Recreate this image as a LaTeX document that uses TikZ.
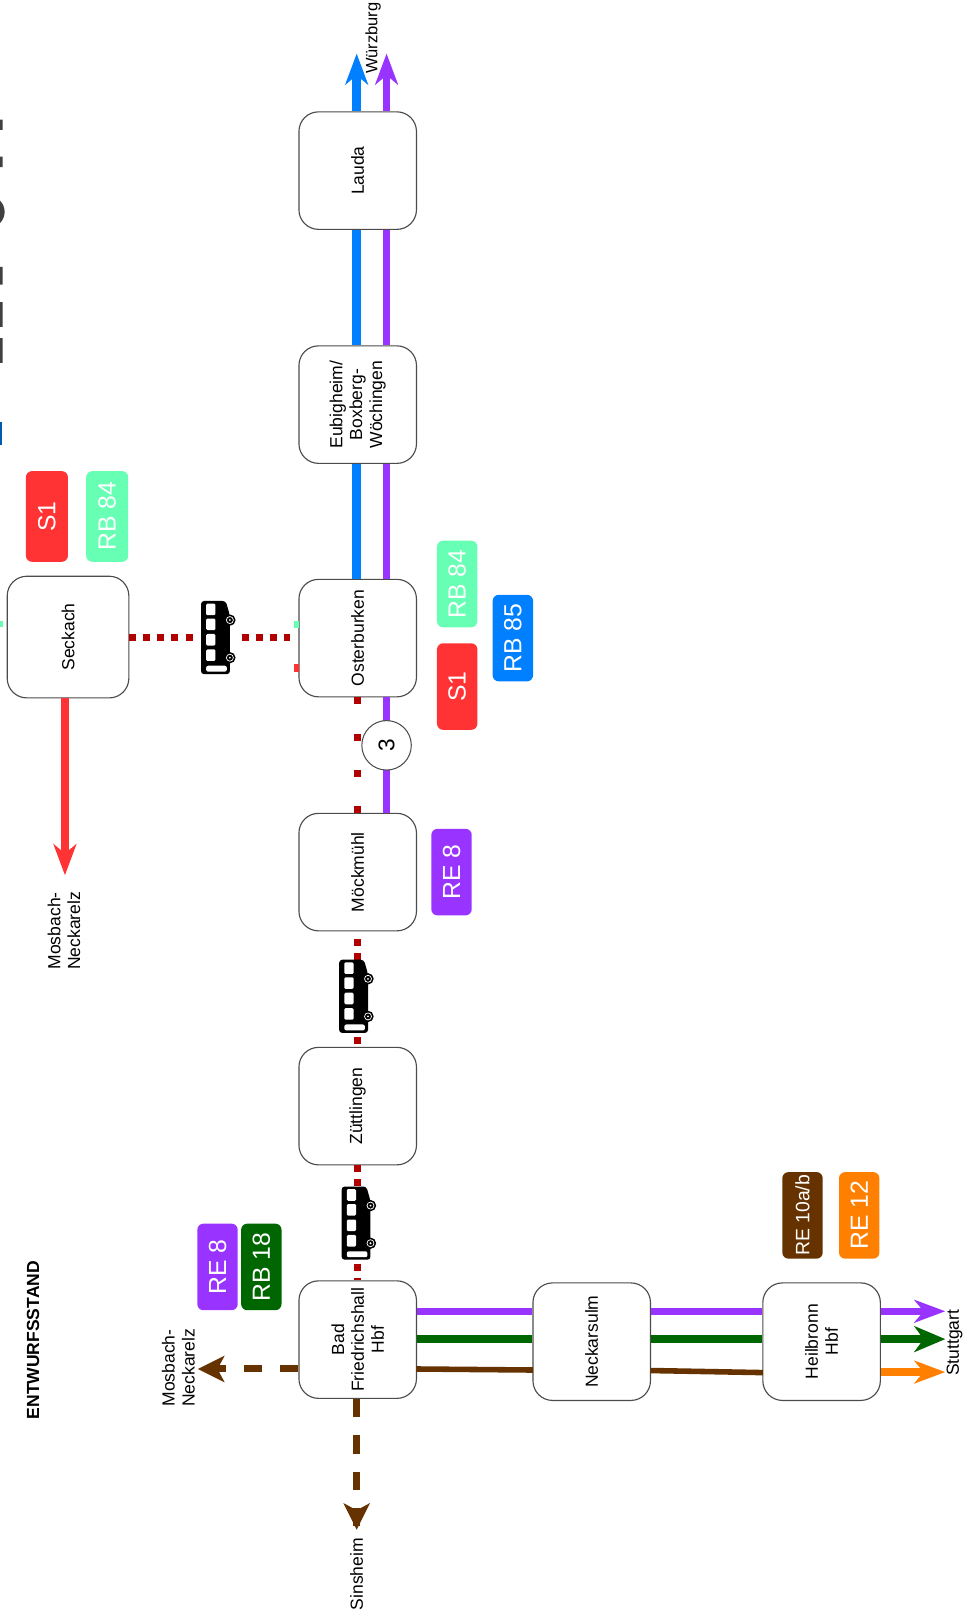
\documentclass[tikz,border=0pt]{standalone}
\usepackage{fontspec}
\setmainfont{Liberation Sans}
\usetikzlibrary{arrows.meta}
\definecolor{cblue}{HTML}{0080FF}
\definecolor{cpurple}{HTML}{9933FF}
\definecolor{cgreen}{HTML}{006600}
\definecolor{cbrown}{HTML}{663300}
\definecolor{corange}{HTML}{FF8000}
\definecolor{cred}{HTML}{FF3333}
\definecolor{cmint}{HTML}{66FFB3}
\definecolor{cdot}{HTML}{B00000}
\tikzset{
 x=0.5pt,y=-0.5pt,
 station/.style={draw=black!70,line width=0.55pt,fill=white,rounded corners=9.5pt,minimum width=57pt,minimum height=57pt,inner sep=0pt,align=center,font=\fontsize{8.5}{9.6}\selectfont,rotate=90},
 badge/.style={rounded corners=3pt,inner sep=0pt,text=white,minimum width=42pt,minimum height=19.6pt,font=\fontsize{12}{12}\selectfont,rotate=90},
 badgewide/.style={badge,minimum width=44pt,minimum height=20.4pt},
 plain/.style={inner sep=0pt,align=center,font=\fontsize{8.5}{9.6}\selectfont,rotate=90},
 track/.style={line width=#1,-{Stealth[length=15pt,width=11pt,inset=4.5pt]}},
 seg/.style={line width=#1},
 dotline/.style={cdot,line width=3.4pt,dash pattern=on 3.4pt off 3.4pt},
 dotwide/.style={cdot,line width=3.4pt,dash pattern=on 3.4pt off 14.1pt},
 dashline/.style={cbrown,line width=3.4pt,dash pattern=on 9pt off 8.6pt},
 buspic/.pic={
  \fill[black,rounded corners=1.5pt] (0,0)--(24,0)--(28,14)--(28,71)--(0,71)--cycle;
  \foreach \yy in {2.6,17,32,47}{\fill[white,rounded corners=.6pt] (5,\yy) rectangle (14,\yy+11.2);}
  \fill[white,rounded corners=1pt] (5,62.8) rectangle (25,68.6);
  \foreach \yy in {18.5,55}{\fill[black] (28,\yy) circle[radius=5.5];\draw[white,line width=.35pt] (28,\yy) circle[radius=3.4];\fill[white] (28,\yy) circle[radius=1];}
 }
}
\begin{document}
\begin{tikzpicture}
\useasboundingbox[fill=white] (0,0) rectangle (940,1568.6);
% clipped remains at the page edge
\begin{scope}
\clip (0,0) rectangle (940,1568.6);
\fill[black!75] (0,116) rectangle (2.5,126) (0,152) rectangle (2.5,162)
 (0,259) rectangle (2.5,276) (0,293) rectangle (2.5,317) (0,328) rectangle (2.5,352);
\fill[black!75] (-10,205.5) ellipse[x radius=14.5,y radius=15];
\fill[cblue!70!black] (0,409) rectangle (1.6,432);
\fill[cmint] (0,602) rectangle (3,608);
\end{scope}
% stations
\node[station] (lauda) at (347,165.5) {Lauda};
\node[station] (eub) at (347,392.5) {Eubigheim/\\Boxberg-\\Wöchingen};
\node[station] (ost) at (347,619) {Osterburken};
\node[station] (moeck) at (347,846) {Möckmühl};
\node[station] (zuet) at (347,1073) {Züttlingen};
\node[station] (bad) at (347,1299.5) {Bad\\Friedrichshall\\Hbf};
\node[station] (neck) at (574,1301.5) {Neckarsulm};
\node[station] (heil) at (797,1301.5) {Heilbronn\\Hbf};
\node[station,minimum width=59pt,minimum height=59pt] (seck) at (66,618) {Seckach};
% free ends
\coordinate (wue1) at (346,52);
\coordinate (wue2) at (375,52);
\coordinate (mos1) at (63,849);
\coordinate (mos2) at (192,1328);
\coordinate (sin) at (346,1484);
\coordinate (st1) at (917,1272);
\coordinate (st2) at (917,1299);
\coordinate (st3) at (917,1331);
\coordinate (ostw) at (281,618);
% tracks
\draw[cblue,track=4.2pt] (lauda.east -| wue1) -- (wue1);
\draw[cpurple,track=3.6pt] (lauda.east -| wue2) -- (wue2);
\draw[cblue,seg=4.2pt] (eub.east -| wue1) -- (lauda.west -| wue1);
\draw[cpurple,seg=3.6pt] (eub.east -| wue2) -- (lauda.west -| wue2);
\draw[cblue,seg=4.2pt] (ost.east -| wue1) -- (eub.west -| wue1);
\draw[cpurple,seg=3.6pt] (ost.east -| wue2) -- (eub.west -| wue2);
\draw[cpurple,seg=3.6pt] (moeck.east -| wue2) -- (ost.west -| wue2);
\draw[cred,track=3.6pt] (seck.west -| mos1) -- (mos1);
\draw[dotline] (seck.south) -- (ostw);
\draw[dotwide] (ost.west) -- (moeck.east);
\draw[dotline] ([yshift=-3.5pt]moeck.west) -- (zuet.east);
\draw[dotline] (zuet.west) -- (bad.east);
\draw[dashline] (bad.north |- mos2) -- (mos2);
\draw[dashline] (bad.west -| sin) -- (sin);
\fill[cbrown] (192,1328) -- ++(26,-13) -- ++(-7,13) -- ++(7,13) -- cycle;
\fill[cbrown] (346,1484) -- ++(-13,-26) -- ++(13,7) -- ++(13,-7) -- cycle;
\draw[cpurple,seg=3.6pt] (bad.south |- st1) -- (neck.north |- st1);
\draw[cgreen,seg=3.9pt] (bad.south |- st2) -- (neck.north |- st2);
\draw[cbrown,seg=2.7pt] (404,1328) -- (517,1329);
\draw[cpurple,seg=3.6pt] (neck.south |- st1) -- (heil.north |- st1);
\draw[cgreen,seg=3.9pt] (neck.south |- st2) -- (heil.north |- st2);
\draw[cbrown,seg=2.7pt] (631,1329.5) -- (740,1331.5);
\draw[cpurple,track=3.6pt] (heil.south |- st1) -- (st1);
\draw[cgreen,line width=3.9pt,-{Stealth[length=15pt,width=12.5pt,inset=4.5pt]}] (heil.south |- st2) -- (st2);
\draw[corange,track=3.6pt] (heil.south |- st3) -- (st3);
% small stubs on Osterburken
\fill[cmint] (285,602) rectangle (290,609);
\fill[cred] (285,644) rectangle (290,652);
% transfer circle
\node[draw=black!70,fill=white,circle,line width=.5pt,minimum size=24pt,inner sep=0pt,rotate=90,font=\fontsize{11}{11}\selectfont] (three) at (375,723) {3};
% buses
\fill[white] (190,578) rectangle (233,659);
\path (195,583) pic {buspic};
\path (329,931) pic {buspic};
\path (331.4,1151) pic {buspic};
% badges
\node[badgewide,fill=cred] (b1) at (45.5,501) {S1};
\node[badgewide,fill=cmint] (b2) at (104,501) {RB 84};
\node[badge,fill=cmint] (b3) at (443.5,566.5) {RB 84};
\node[badge,fill=cblue] (b4) at (497.5,619) {RB 85};
\node[badge,fill=cred] (b5) at (443.5,666) {S1};
\node[badge,fill=cpurple] (b6) at (438,846) {RE 8};
\node[badge,fill=cpurple] (b7) at (211,1229) {RE 8};
\node[badge,fill=cgreen] (b8) at (253.5,1229) {RB 18};
\node[badge,fill=cbrown,font=\fontsize{9.4}{10}\selectfont] (b9) at (778.5,1179) {RE 10a/b};
\node[badge,fill=corange] (b10) at (833.5,1179) {RE 12};
% labels
\node[plain,font=\fontsize{8}{9}\selectfont] (lw) at (362,37) {Würzburg};
\node[plain] (lm1) at (62,903) {Mosbach-\\Neckarelz};
\node[plain] (lm2) at (173,1327) {Mosbach-\\Neckarelz};
\node[plain] (ls) at (346,1527) {Sinsheim};
\node[plain] (lst) at (926,1302.5) {Stuttgart};
\node[plain,font=\bfseries\fontsize{8.5}{10}\selectfont] (ent) at (32,1300) {ENTWURFSSTAND};
\end{tikzpicture}
\end{document}
